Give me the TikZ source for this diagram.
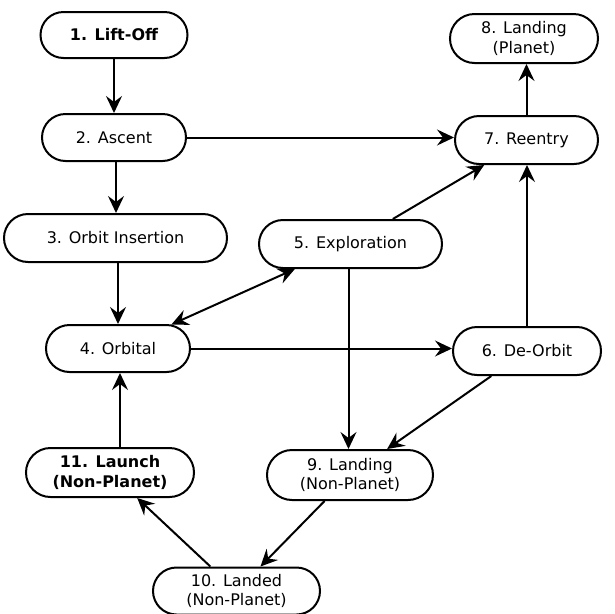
\documentclass[tikz,border=0pt]{standalone}
\usepackage{fontspec}
\setmainfont{DejaVu Sans}
\usetikzlibrary{shapes.misc,arrows.meta}
\begin{document}
\begin{tikzpicture}[x=1pt,y=-1pt,
  state/.style={rounded rectangle, draw, line width=2pt, inner sep=0pt, align=center,
    font=\fontsize{16}{19.5}\selectfont},
  conn/.style={line width=2pt, -{Stealth[length=17pt,width=16pt,inset=6pt]}},
  bconn/.style={line width=2pt, {Stealth[length=17pt,width=16pt,inset=6pt]}-{Stealth[length=17pt,width=16pt,inset=6pt]}}]
\useasboundingbox (0,0) rectangle (614,614);
\node[state, minimum width=147pt, minimum height=46pt, font=\fontsize{16}{19.5}\selectfont\bfseries] (n1) at (114,35) {1. Lift-Off};
\node[state, minimum width=144pt, minimum height=47pt] (n2) at (114,137.5) {2. Ascent};
\node[state, minimum width=223pt, minimum height=48pt] (n3) at (115.5,238) {3. Orbit Insertion};
\node[state, minimum width=144pt, minimum height=47pt] (n4) at (118,348.5) {4. Orbital};
\node[state, minimum width=183pt, minimum height=48pt] (n5) at (350.5,244) {5. Exploration};
\node[state, minimum width=148pt, minimum height=48pt] (n6) at (527,351) {6. De-Orbit};
\node[state, minimum width=143pt, minimum height=48pt] (n7) at (526.5,140) {7. Reentry};
\node[state, minimum width=148pt, minimum height=49pt] (n8) at (524,38.5) {8. Landing\\(Planet)};
\node[state, minimum width=166pt, minimum height=50pt] (n9) at (350,475) {9. Landing\\(Non-Planet)};
\node[state, minimum width=167pt, minimum height=47pt] (n10) at (236.5,591) {10. Landed\\(Non-Planet)};
\node[state, minimum width=168pt, minimum height=49pt, font=\fontsize{16}{19.5}\selectfont\bfseries] (n11) at (110,472.5) {11. Launch\\(Non-Planet)};
\draw[conn] (n1.south) -- (n2.north);
\draw[conn] ([xshift=2pt]n2.south) -- ([xshift=2pt]n2.south |- n3.north);
\draw[conn] (n2.east) -- (n2.east -| n7.west);
\draw[conn] (n3.south -| n4.north) -- (n4.north);
\draw[bconn] (n4) -- (n5);
\draw[conn] (n4.east) -- (n4.east -| n6.west);
\draw[conn] (n5) -- (n7);
\draw[conn] ([xshift=-2pt]n5.south) -- ([xshift=-2pt]n5.south |- n9.north);
\draw[conn] (n6.north) -- (n6.north |- n7.south);
\draw[conn] (n6) -- (n9);
\draw[conn] (n7.north) -- (n7.north |- n8.south);
\draw[conn] (n9) -- (n10);
\draw[conn] (n10) -- (n11);
\draw[conn] ([xshift=2pt]n11.north -| n4.south) -- ([xshift=2pt]n4.south);
\end{tikzpicture}
\end{document}
